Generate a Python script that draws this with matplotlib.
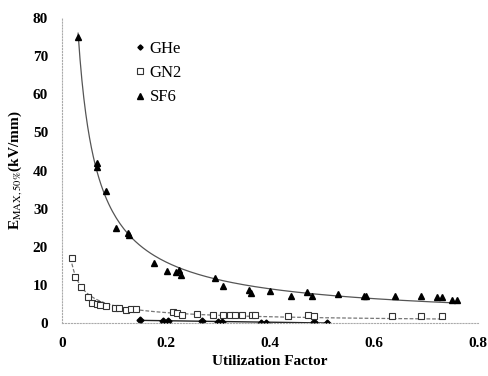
import numpy as np
import matplotlib.pyplot as plt

plt.rcParams['font.family'] = ['Liberation Serif', 'DejaVu Serif']
plt.rcParams['mathtext.fontset'] = 'stix'

# GHe
ghe_x = [0.149, 0.195, 0.204, 0.27, 0.30, 0.307, 0.382, 0.392, 0.485, 0.51]
ghe_y = [0.9, 0.6, 0.6, 0.4, 0.3, 0.3, 0.1, 0.1, 0.2, 0.1]

# GN2
gn2_x = [0.019, 0.025, 0.037, 0.05, 0.057, 0.067, 0.073, 0.085, 0.102, 0.11, 0.123,
         0.132, 0.142, 0.214, 0.222, 0.23, 0.26, 0.29, 0.31, 0.323, 0.333, 0.346,
         0.365, 0.371, 0.435, 0.473, 0.485, 0.635, 0.69, 0.73]
gn2_y = [17.0, 12.0, 9.5, 6.8, 5.2, 5.0, 4.7, 4.5, 4.0, 3.9, 3.4,
         3.7, 3.7, 2.9, 2.6, 2.1, 2.4, 2.1, 2.1, 2.1, 2.1, 2.1,
         2.1, 2.1, 1.8, 2.1, 1.8, 1.8, 1.8, 1.8]

# SF6
sf6_x = [0.031, 0.067, 0.068, 0.085, 0.104, 0.127, 0.128, 0.177, 0.202, 0.22, 0.224,
         0.229, 0.294, 0.31, 0.36, 0.364, 0.40, 0.44, 0.47, 0.48, 0.53, 0.58, 0.585,
         0.64, 0.69, 0.72, 0.73, 0.75, 0.76]
sf6_y = [75.0, 42.0, 41.0, 34.6, 25.0, 23.6, 23.0, 15.7, 13.6, 13.4, 14.0,
         12.6, 11.8, 9.7, 8.7, 7.9, 8.4, 7.1, 8.1, 7.1, 7.6, 7.1, 7.1,
         7.1, 7.1, 6.8, 6.8, 6.0, 6.0]


def power_fit(x, y):
    # log-space fit weighted by y, close to a least-squares fit on y itself
    x, y = np.asarray(x), np.asarray(y)
    b, loga = np.polyfit(np.log(x), np.log(y), 1, w=y)
    xs = np.linspace(x.min(), x.max(), 200)
    return xs, np.exp(loga) * xs ** b


fig = plt.figure(figsize=(4.88, 3.76), dpi=100)
ax = fig.add_axes([0.127, 0.141, 0.853, 0.811])

xs, ys = power_fit(sf6_x, sf6_y)
ax.plot(xs, ys, color='#555555', lw=0.9)
xs, ys = power_fit(gn2_x, gn2_y)
ax.plot(xs, ys, color='#777777', lw=0.9, ls=(0, (3, 1.5)))
k, c = np.polyfit(ghe_x, ghe_y, 1)
xl = np.array([min(ghe_x), max(ghe_x)])
ax.plot(xl, k * xl + c, color='#222222', lw=1.0)

ax.plot(ghe_x, ghe_y, 'D', color='black', ms=3.5, ls='none', label='GHe')
ax.plot(gn2_x, gn2_y, 's', mfc='white', mec='#333333', mew=0.8, ms=5, ls='none', label='GN2')
ax.plot(sf6_x, sf6_y, '^', color='black', ms=5, ls='none', label='SF6')

ax.set_xlim(0, 0.8)
ax.set_ylim(0, 80)
ax.set_xticks([0, 0.2, 0.4, 0.6, 0.8])
ax.set_xticklabels(['0', '0.2', '0.4', '0.6', '0.8'])
ax.set_yticks(range(0, 81, 10))
ax.tick_params(length=0, labelsize=11, pad=10)
for lab in ax.get_xticklabels() + ax.get_yticklabels():
    lab.set_fontweight('bold')

for s in ['top', 'right']:
    ax.spines[s].set_visible(False)
for s in ['left', 'bottom']:
    ax.spines[s].set_color('#aaaaaa')
    ax.spines[s].set_linestyle(':')
    ax.spines[s].set_linewidth(0.8)

ax.set_xlabel('Utilization Factor', fontsize=11, fontweight='bold', labelpad=4)
ax.set_ylabel(r'E$_{\mathrm{MAX,50\%}}$(kV/mm)', fontsize=11, fontweight='bold', labelpad=6)

ax.legend(loc='upper left', bbox_to_anchor=(0.135, 0.975), frameon=False,
          fontsize=12, handletextpad=0.2, handlelength=0.8, labelspacing=0.5,
          markerscale=0.75)

fig.savefig('out.png', dpi=100)
